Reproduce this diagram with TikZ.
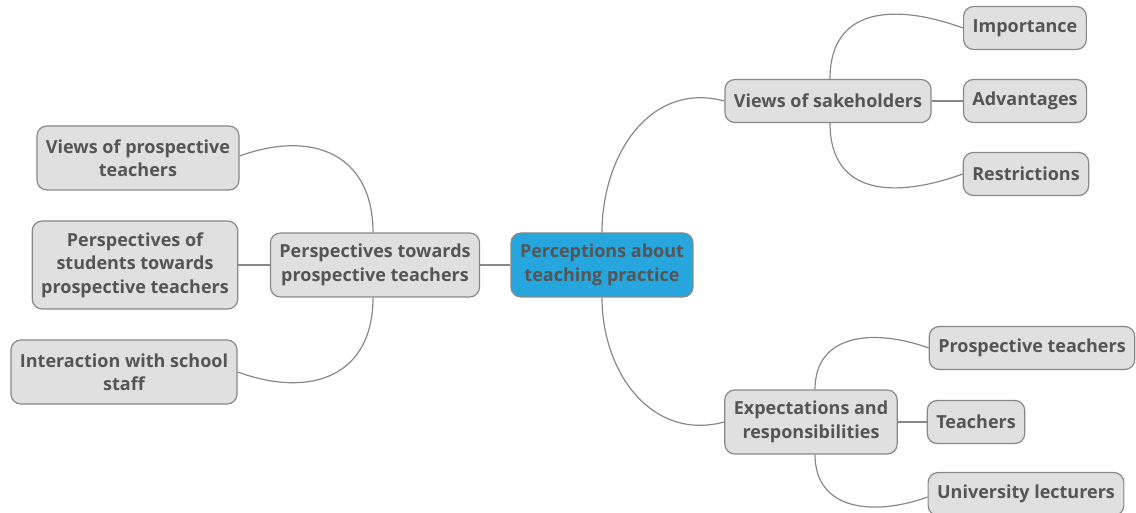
\documentclass[tikz,border=0pt]{standalone}
\usepackage{fontspec}
\setmainfont{Open Sans}
\usepackage{tikz}
\definecolor{boxgray}{HTML}{E0E0E0}
\definecolor{edgegray}{HTML}{888888}
\definecolor{txtgray}{HTML}{555555}
\definecolor{rootblue}{HTML}{26A6DC}

\begin{document}
\begin{tikzpicture}[x=1pt, y=1pt, line width=1.2pt,
  main/.style = {draw=edgegray, fill=boxgray, rounded corners=10pt, align=center, inner xsep=9pt, inner ysep=5pt,
    text=txtgray, font=\fontsize{18}{23.5}\selectfont\bfseries},
  root/.style = {main, fill=rootblue},
  link/.style = {draw=edgegray}]
\useasboundingbox (0,0) rectangle (1136,-513);

\node[root,minimum height=64pt] (0) at (602,-265) {Perceptions about\\teaching practice};

\node[main,minimum height=43pt] (1) at (828,-101) {Views of sakeholders};
\node[main,minimum height=43pt] (11) at (1025,-28) {Importance};
\node[main,minimum height=43pt] (12) at (1025,-101) {Advantages};
\node[main,minimum height=43pt] (13) at (1026,-174) {Restrictions};

\node[main,minimum height=64pt] (2) at (811,-422) {Expectations and\\responsibilities};
\node[main,minimum height=43pt] (21) at (1032,-348) {Prospective teachers};
\node[main,minimum height=43pt] (22) at (976,-422) {Teachers};
\node[main,minimum height=43pt] (23) at (1026,-494) {University lecturers};

\node[main,minimum height=64pt] (3) at (375,-265) {Perspectives towards\\prospective teachers};
\node[main,minimum height=64pt] (31) at (138,-158) {Views of prospective\\teachers};
\node[main,minimum height=88pt] (32) at (135,-265) {Perspectives of\\students towards\\prospective teachers};
\node[main,minimum height=64pt] (33) at (124,-372) {Interaction with school\\staff};

\draw[link] (0.north) to[out=90, in=165, looseness=1.1] (1.west);
\draw[link] (0.south) to[out=-90, in=195, looseness=1.1] (2.west);
\draw[link] (0.west) -- (3.east);

\draw[link] ([xshift=2pt]1.north) to[out=90, in=160, looseness=1.3] (11.west);
\draw[link] (1.east) -- (12.west);
\draw[link] ([xshift=2pt]1.south) to[out=-90, in=200, looseness=1.3] (13.west);

\draw[link] ([xshift=4pt]2.north) to[out=90, in=160, looseness=1.2] (21.west);
\draw[link] (2.east) -- (22.west);
\draw[link] ([xshift=4pt]2.south) to[out=-90, in=200, looseness=1.2] ([yshift=-3pt]23.west);

\draw[link] ([xshift=-2pt]3.north) to[out=90, in=20, looseness=1.3] ([yshift=2pt]31.east);
\draw[link] (3.west) -- (32.east);
\draw[link] ([xshift=-2pt]3.south) to[out=-90, in=-20, looseness=1.3] (33.east);
\end{tikzpicture}
\end{document}
